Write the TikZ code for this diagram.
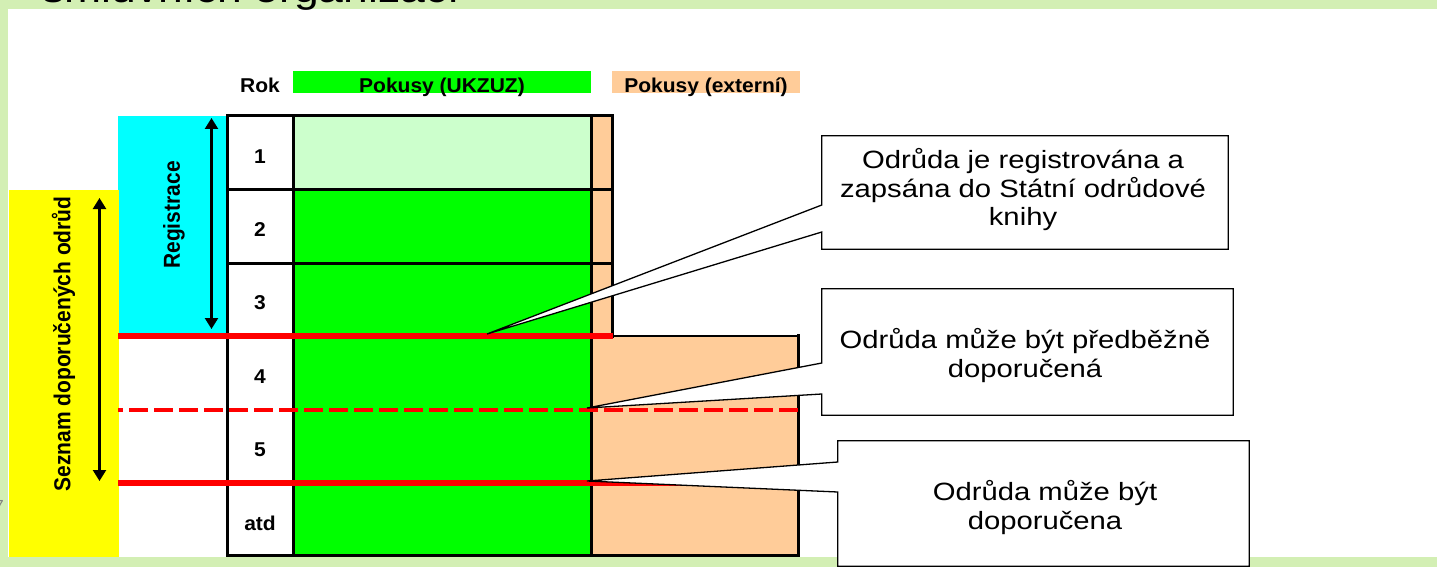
\documentclass[tikz,border=0pt]{standalone}
\usepackage{fontspec}
\setmainfont{Liberation Sans}
\usetikzlibrary{arrows.meta}
\definecolor{slidegreen}{RGB}{211,239,180}
\definecolor{vgreen}{RGB}{0,255,0}
\definecolor{lgreen}{RGB}{204,255,204}
\definecolor{peach}{RGB}{255,204,153}
\definecolor{cyanb}{RGB}{0,255,255}
\definecolor{yell}{RGB}{255,255,0}
\definecolor{redl}{RGB}{255,0,0}
\newcommand{\hstr}[1]{\scalebox{1.17}[1]{#1}}
\newcommand{\hstrb}[1]{\scalebox{1.05}[1]{#1}}
\newcommand{\hstrr}[1]{\scalebox{1.1}[1]{#1}}
\pgfdeclarelayer{back}
\pgfdeclarelayer{mid}
\pgfsetlayers{back,mid,main}
\begin{document}
\begin{tikzpicture}[x=1pt,y=-1pt,
  bl/.style={font=\fontsize{20}{22}\selectfont\bfseries, inner sep=0pt},
  rotl/.style={font=\fontsize{21}{23}\selectfont\bfseries, inner sep=0pt},
  tbl/.style={line width=3pt, line cap=rect},
  redsolid/.style={draw=redl, line width=5.3pt},
  reddash/.style={draw=redl, line width=4pt, dash pattern=on 19pt off 6pt, dash phase=14pt},
  dblarrow/.style={line width=2.3pt, {Triangle[width=13pt,length=11pt]}-{Triangle[width=13pt,length=11pt]}},
  cbox/.style={rectangle, draw=none, inner sep=0pt},
  callout/.style={fill=white, draw=black, line width=1.3pt, line join=miter},
  ctext/.style={inner sep=0pt, font=\fontsize{25}{28.7}\selectfont}]
\useasboundingbox (0,0) rectangle (1437,567);
\clip (0,0) rectangle (1437,567);
\begin{pgfonlayer}{back}
  % slide background
  \fill[slidegreen] (0,0) rectangle (1437,567);
  \fill[white] (7.5,9) rectangle (1437,556.5);
  \node[anchor=base west, inner sep=0pt, font=\fontsize{38}{40}\selectfont] (title) at (42,3) {\hstr{smluvních organizací}};
  \node[anchor=base east, inner sep=0pt, text=gray, font=\fontsize{16}{18}\selectfont] (num) at (4,511) {7};
  % header bars
  \fill[vgreen] (293,71) rectangle (591,93);
  \fill[peach] (612,71) rectangle (800,93);
  \node[bl, anchor=base] (hrok) at (260,92.5) {\hstrb{Rok}};
  \node[bl, anchor=base] (hukz) at (442,92.5) {\hstrb{Pokusy (UKZUZ)}};
  \node[bl, anchor=base] (hext) at (706,92.5) {\hstrb{Pokusy (externí)}};
  % side bands
  \fill[cyanb] (117.5,116) rectangle (227,336);
  \fill[yell] (9,190) rectangle (118.5,556.5);
  % trial columns
  \fill[lgreen] (293,116) rectangle (591,189);
  \fill[vgreen] (293,189) rectangle (591,555);
  \fill[peach] (591,116) rectangle (612,336);
  \fill[peach] (591,336) rectangle (798,555);
  % borders
  \draw[tbl] (227,116) -- (612,116) -- (612,336);
  \draw[tbl] (227,116) -- (227,555) -- (798,555) -- (798,335.5);
  \draw[tbl] (293,116) -- (293,555);
  \draw[tbl] (591.5,116) -- (591.5,555);
  \draw[tbl] (227,189) -- (612,189);
  \draw[tbl] (227,263) -- (612,263);
  \draw[line width=2pt] (612,335.5) -- (798,335.5);
  % red milestones
  \draw[redsolid] (118,336) -- (613,336);
  \draw[reddash] (118,410) -- (800,410);
  \draw[redsolid] (118,483) -- (798,483);
  % spans
  \draw[dblarrow] (211.5,118) -- (211.5,329);
  \draw[dblarrow] (99.5,198) -- (99.5,481);
  \node[rotl] (reg) at (174,215) {\hstrr{\rotatebox{90}{Registrace}}};
  \node[rotl] (sez) at (63.5,344) {\hstrr{\rotatebox{90}{Seznam doporučených odrůd}}};
  % years
  \node[bl] (r1) at (260,157) {\hstrb{1}};
  \node[bl] (r2) at (260,230) {\hstrb{2}};
  \node[bl] (r3) at (260,303) {\hstrb{3}};
  \node[bl] (r4) at (260,377) {\hstrb{4}};
  \node[bl] (r5) at (260,450) {\hstrb{5}};
  \node[bl] (r6) at (260,523) {\hstrb{atd}};
\end{pgfonlayer}
% callout boxes
\coordinate (tip1) at (487,334);
\coordinate (tip2) at (587,408);
\coordinate (tip3) at (587,481);
\node[cbox, minimum width=406pt, minimum height=113pt] (c1) at (1025,192.5) {};
\node[cbox, minimum width=411pt, minimum height=126pt] (c2) at (1027.5,352) {};
\node[cbox, minimum width=411pt, minimum height=125pt] (c3) at (1043.5,503.5) {};
\begin{pgfonlayer}{mid}
  \path[callout] (c1.north west) -- (c1.north east) -- (c1.south east) -- (c1.south west) -- (c1.west |- 0,232) -- (tip1) -- (c1.west |- 0,205) -- cycle;
  \path[callout] (c2.north west) -- (c2.north east) -- (c2.south east) -- (c2.south west) -- (c2.west |- 0,394) -- (tip2) -- (c2.west |- 0,363) -- cycle;
  \path[callout] (c3.north west) -- (c3.north east) -- (c3.south east) -- (c3.south west) -- (c3.west |- 0,492) -- (tip3) -- (c3.west |- 0,462) -- cycle;
\end{pgfonlayer}
\node[ctext, anchor=base] (t1) at (1023,168.5) {\hstr{\begin{tabular}[t]{@{}c@{}}Odrůda je registrována a\\zapsána do Státní odrůdové\\knihy\end{tabular}}};
\node[ctext, anchor=base] (t2) at (1025,348.5) {\hstr{\begin{tabular}[t]{@{}c@{}}Odrůda může být předběžně\\doporučená\end{tabular}}};
\node[ctext, anchor=base] (t3) at (1045,500.5) {\hstr{\begin{tabular}[t]{@{}c@{}}Odrůda může být\\doporučena\end{tabular}}};
\end{tikzpicture}
\end{document}
